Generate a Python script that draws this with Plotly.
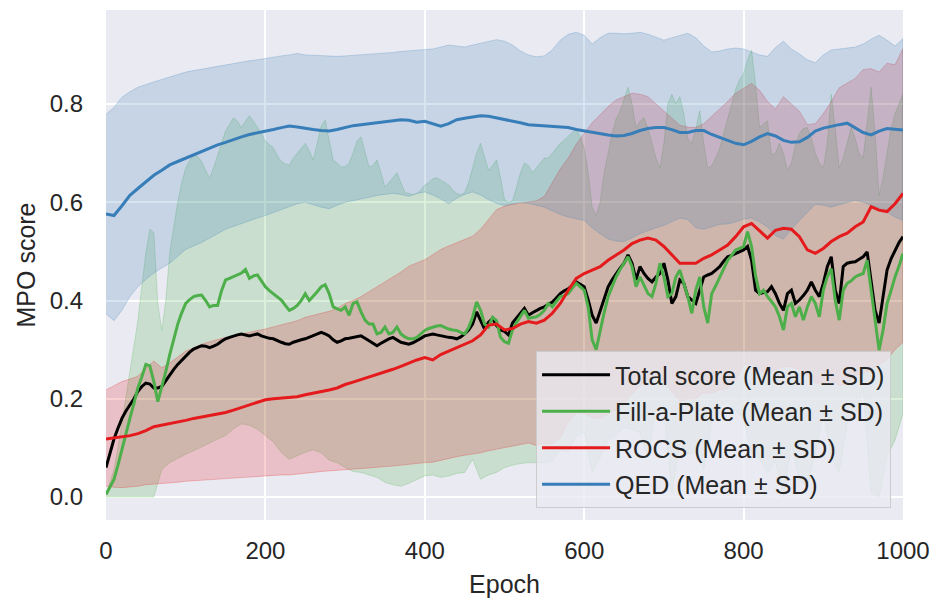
import plotly.graph_objects as go

# ---------------- data ----------------
epochs_10 = list(range(0, 1001, 10))
epochs_5 = list(range(0, 1001, 5))

qed_mean = [
    0.576, 0.573, 0.593, 0.614, 0.628, 0.642, 0.655, 0.665, 0.676, 0.683,
    0.690, 0.697, 0.704, 0.710, 0.717, 0.722, 0.728, 0.733, 0.738, 0.741,
    0.744, 0.748, 0.752, 0.755, 0.753, 0.750, 0.748, 0.746, 0.745, 0.748,
    0.752, 0.756, 0.758, 0.760, 0.762, 0.765, 0.766, 0.768, 0.767, 0.763,
    0.765, 0.760, 0.755, 0.760, 0.768, 0.771, 0.774, 0.776, 0.775, 0.772,
    0.769, 0.765, 0.762, 0.758, 0.757, 0.756, 0.755, 0.754, 0.752, 0.748,
    0.745, 0.742, 0.740, 0.737, 0.735, 0.736, 0.740, 0.746, 0.750, 0.752,
    0.752, 0.748, 0.742, 0.742, 0.746, 0.746, 0.738, 0.732, 0.727, 0.720,
    0.717, 0.724, 0.733, 0.740, 0.735, 0.726, 0.722, 0.723, 0.732, 0.745,
    0.751, 0.755, 0.758, 0.761, 0.752, 0.742, 0.737, 0.745, 0.750, 0.748,
    0.747]
qed_upper = [
    0.779, 0.793, 0.814, 0.825, 0.834, 0.840, 0.845, 0.850, 0.855, 0.860,
    0.865, 0.868, 0.871, 0.874, 0.877, 0.879, 0.882, 0.885, 0.888, 0.890,
    0.893, 0.895, 0.898, 0.900, 0.903, 0.900, 0.899, 0.898, 0.897, 0.897,
    0.898, 0.899, 0.900, 0.901, 0.902, 0.903, 0.905, 0.907, 0.908, 0.909,
    0.910, 0.912, 0.916, 0.920, 0.918, 0.916, 0.920, 0.924, 0.928, 0.931,
    0.928, 0.920, 0.908, 0.900, 0.896, 0.898, 0.910, 0.930, 0.942, 0.946,
    0.940, 0.922, 0.935, 0.944, 0.944, 0.943, 0.944, 0.946, 0.942, 0.936,
    0.930, 0.935, 0.940, 0.944, 0.935, 0.918, 0.906, 0.908, 0.912, 0.914,
    0.912, 0.906, 0.900, 0.897, 0.915, 0.928, 0.912, 0.902, 0.890, 0.884,
    0.900, 0.910, 0.912, 0.914, 0.916, 0.922, 0.932, 0.940, 0.930, 0.918,
    0.933]
qed_lower = [
    0.373, 0.359, 0.380, 0.408, 0.428, 0.443, 0.456, 0.466, 0.476, 0.490,
    0.504, 0.511, 0.518, 0.527, 0.536, 0.545, 0.550, 0.556, 0.562, 0.568,
    0.573, 0.578, 0.585, 0.591, 0.597, 0.600, 0.595, 0.590, 0.587, 0.594,
    0.600, 0.604, 0.607, 0.610, 0.614, 0.616, 0.618, 0.616, 0.612, 0.618,
    0.621, 0.615, 0.607, 0.597, 0.608, 0.616, 0.621, 0.615, 0.605, 0.598,
    0.593, 0.596, 0.600, 0.598, 0.594, 0.590, 0.583, 0.575, 0.570, 0.566,
    0.563, 0.548, 0.536, 0.525, 0.521, 0.520, 0.528, 0.536, 0.542, 0.548,
    0.553, 0.560, 0.568, 0.565, 0.548, 0.545, 0.550, 0.555, 0.556, 0.560,
    0.566, 0.568, 0.560, 0.550, 0.532, 0.525, 0.545, 0.563, 0.580, 0.596,
    0.594, 0.590, 0.595, 0.600, 0.604, 0.600, 0.594, 0.588, 0.580, 0.570,
    0.563]

rocs_mean = [
    0.118, 0.120, 0.122, 0.125, 0.129, 0.135, 0.143, 0.146, 0.149, 0.152,
    0.156, 0.160, 0.163, 0.165, 0.168, 0.172, 0.177, 0.182, 0.187, 0.193,
    0.198, 0.200, 0.201, 0.203, 0.204, 0.208, 0.211, 0.215, 0.218, 0.222,
    0.229, 0.234, 0.239, 0.244, 0.249, 0.255, 0.260, 0.266, 0.273, 0.279,
    0.284, 0.279, 0.290, 0.297, 0.304, 0.311, 0.318, 0.330, 0.350, 0.352,
    0.340, 0.343, 0.352, 0.357, 0.354, 0.360, 0.374, 0.394, 0.421, 0.445,
    0.455, 0.462, 0.469, 0.482, 0.493, 0.503, 0.516, 0.523, 0.527, 0.523,
    0.510, 0.493, 0.476, 0.476, 0.476, 0.486, 0.493, 0.503, 0.513, 0.530,
    0.550, 0.557, 0.543, 0.527, 0.543, 0.547, 0.545, 0.530, 0.503, 0.496,
    0.506, 0.520, 0.530, 0.537, 0.550, 0.560, 0.591, 0.584, 0.581, 0.597,
    0.618]
rocs_upper = [
    0.218, 0.226, 0.235, 0.240, 0.246, 0.262, 0.277, 0.263, 0.273, 0.285,
    0.297, 0.304, 0.311, 0.316, 0.321, 0.325, 0.328, 0.332, 0.335, 0.339,
    0.342, 0.346, 0.350, 0.355, 0.359, 0.366, 0.370, 0.375, 0.378, 0.384,
    0.394, 0.400, 0.408, 0.418, 0.428, 0.438, 0.449, 0.458, 0.470, 0.476,
    0.483, 0.493, 0.504, 0.511, 0.518, 0.525, 0.531, 0.545, 0.565, 0.585,
    0.592, 0.596, 0.598, 0.600, 0.603, 0.612, 0.640, 0.668, 0.690, 0.718,
    0.740, 0.762, 0.778, 0.795, 0.808, 0.815, 0.822, 0.820, 0.815, 0.800,
    0.785, 0.770, 0.757, 0.753, 0.752, 0.760, 0.775, 0.788, 0.805, 0.822,
    0.832, 0.842, 0.828, 0.805, 0.790, 0.815, 0.800, 0.785, 0.758, 0.760,
    0.780, 0.805, 0.833, 0.843, 0.852, 0.870, 0.872, 0.865, 0.883, 0.880,
    0.913]
rocs_lower = [
    0.022, 0.020, 0.019, 0.020, 0.022, 0.025, 0.026, 0.027, 0.029, 0.030,
    0.032, 0.033, 0.034, 0.035, 0.036, 0.037, 0.038, 0.039, 0.040, 0.042,
    0.043, 0.044, 0.045, 0.045, 0.046, 0.048, 0.050, 0.052, 0.053, 0.055,
    0.056, 0.057, 0.058, 0.059, 0.060, 0.062, 0.063, 0.064, 0.066, 0.068,
    0.070, 0.071, 0.074, 0.078, 0.082, 0.085, 0.088, 0.090, 0.094, 0.098,
    0.101, 0.104, 0.107, 0.110, 0.105, 0.108, 0.108, 0.120, 0.152, 0.172,
    0.170, 0.162, 0.160, 0.169, 0.178, 0.191, 0.210, 0.226, 0.239, 0.246,
    0.235, 0.216, 0.195, 0.199, 0.200, 0.212, 0.211, 0.218, 0.221, 0.238,
    0.268, 0.272, 0.258, 0.249, 0.260, 0.265, 0.265, 0.260, 0.248, 0.232,
    0.232, 0.235, 0.227, 0.231, 0.248, 0.250, 0.260, 0.270, 0.280, 0.300,
    0.315]

fap_lower = [
    0.000, 0.000, 0.000, 0.000, 0.000, 0.000, 0.000, 0.056, 0.070, 0.078,
    0.087, 0.094, 0.101, 0.110, 0.118, 0.125, 0.139, 0.149, 0.146, 0.138,
    0.125, 0.112, 0.091, 0.077, 0.084, 0.091, 0.096, 0.090, 0.075, 0.070,
    0.060, 0.052, 0.050, 0.045, 0.040, 0.030, 0.025, 0.022, 0.028, 0.035,
    0.043, 0.045, 0.040, 0.043, 0.048, 0.050, 0.077, 0.036, 0.045, 0.050,
    0.060, 0.065, 0.068, 0.070, 0.070, 0.070, 0.074, 0.096, 0.093, 0.123,
    0.132, 0.050, 0.080, 0.116, 0.126, 0.142, 0.138, 0.131, 0.078, 0.180,
    0.176, 0.008, 0.109, 0.086, 0.092, 0.054, 0.153, 0.186, 0.194, 0.176,
    0.158, 0.090, 0.078, 0.050, 0.074, 0.000, 0.108, 0.034, 0.022, 0.088,
    0.173, 0.080, 0.050, 0.150, 0.166, 0.220, 0.008, 0.000, 0.084, 0.116,
    0.170]

fap_upper = [
    0.005, 0.030, 0.056, 0.100, 0.153, 0.205, 0.256, 0.310, 0.359, 0.430, 0.497, 0.545, 0.538, 0.394, 0.339, 0.400, 0.497, 0.550, 0.600, 0.640,
    0.669, 0.685, 0.697, 0.693, 0.683, 0.665, 0.649, 0.670, 0.697, 0.720, 0.745, 0.760, 0.772, 0.765, 0.752, 0.765, 0.776, 0.765, 0.752, 0.740,
    0.724, 0.718, 0.711, 0.695, 0.683, 0.678, 0.676, 0.690, 0.700, 0.710, 0.720, 0.705, 0.686, 0.720, 0.755, 0.767, 0.730, 0.686, 0.680, 0.672,
    0.672, 0.680, 0.700, 0.725, 0.733, 0.700, 0.672, 0.675, 0.686, 0.660, 0.631, 0.640, 0.650, 0.660, 0.640, 0.620, 0.618, 0.615, 0.618, 0.625,
    0.635, 0.640, 0.648, 0.650, 0.645, 0.640, 0.635, 0.625, 0.618, 0.615, 0.620, 0.640, 0.672, 0.700, 0.720, 0.690, 0.665, 0.675, 0.686, 0.650,
    0.605, 0.600, 0.603, 0.630, 0.660, 0.680, 0.675, 0.660, 0.670, 0.680, 0.690, 0.690, 0.700, 0.710, 0.720, 0.727, 0.735, 0.742, 0.747, 0.735,
    0.710, 0.660, 0.590, 0.573, 0.600, 0.660, 0.700, 0.740, 0.770, 0.786, 0.810, 0.834, 0.800, 0.752, 0.765, 0.772, 0.750, 0.720, 0.690, 0.669,
    0.720, 0.800, 0.820, 0.800, 0.815, 0.780, 0.730, 0.720, 0.750, 0.786, 0.720, 0.669, 0.675, 0.690, 0.710, 0.740, 0.770, 0.800, 0.830, 0.850,
    0.862, 0.890, 0.910, 0.841, 0.752, 0.760, 0.766, 0.697, 0.700, 0.720, 0.700, 0.665, 0.680, 0.717, 0.740, 0.750, 0.752, 0.730, 0.700, 0.680,
    0.669, 0.720, 0.820, 0.750, 0.669, 0.690, 0.720, 0.752, 0.730, 0.700, 0.690, 0.760, 0.834, 0.738, 0.614, 0.650, 0.704, 0.750, 0.780, 0.800,
    0.820]

fap_mean = [
    0.005, 0.020, 0.036, 0.065, 0.098, 0.130, 0.160, 0.190, 0.222, 0.245, 0.270, 0.267, 0.235, 0.194, 0.222, 0.255, 0.290, 0.320, 0.352, 0.375,
    0.394, 0.402, 0.408, 0.410, 0.411, 0.400, 0.387, 0.390, 0.390, 0.420, 0.442, 0.445, 0.449, 0.452, 0.456, 0.463, 0.445, 0.450, 0.452, 0.440,
    0.428, 0.420, 0.414, 0.408, 0.401, 0.390, 0.380, 0.384, 0.390, 0.400, 0.414, 0.400, 0.408, 0.418, 0.428, 0.432, 0.414, 0.387, 0.383, 0.380,
    0.387, 0.370, 0.394, 0.397, 0.377, 0.360, 0.352, 0.352, 0.332, 0.335, 0.346, 0.332, 0.335, 0.346, 0.332, 0.326, 0.322, 0.322, 0.325, 0.332,
    0.339, 0.343, 0.346, 0.348, 0.349, 0.345, 0.342, 0.340, 0.339, 0.335, 0.332, 0.345, 0.366, 0.397, 0.380, 0.352, 0.346, 0.366, 0.359, 0.325,
    0.316, 0.313, 0.340, 0.355, 0.367, 0.380, 0.364, 0.365, 0.367, 0.372, 0.380, 0.394, 0.387, 0.398, 0.408, 0.410, 0.414, 0.425, 0.435, 0.428,
    0.421, 0.387, 0.320, 0.300, 0.340, 0.375, 0.408, 0.430, 0.448, 0.463, 0.476, 0.489, 0.469, 0.428, 0.448, 0.430, 0.414, 0.408, 0.435, 0.476,
    0.448, 0.408, 0.414, 0.448, 0.462, 0.435, 0.408, 0.374, 0.421, 0.448, 0.387, 0.354, 0.414, 0.430, 0.448, 0.465, 0.482, 0.492, 0.503, 0.506,
    0.510, 0.540, 0.510, 0.450, 0.414, 0.421, 0.408, 0.398, 0.387, 0.367, 0.340, 0.387, 0.394, 0.367, 0.387, 0.360, 0.387, 0.408, 0.394, 0.367,
    0.421, 0.448, 0.465, 0.400, 0.360, 0.421, 0.435, 0.440, 0.448, 0.452, 0.455, 0.482, 0.421, 0.354, 0.299, 0.340, 0.394, 0.420, 0.448, 0.470,
    0.496]

total_mean = [
    0.060, 0.090, 0.118, 0.140, 0.160, 0.175, 0.187, 0.200, 0.215, 0.225, 0.232, 0.230, 0.222, 0.222, 0.225, 0.237, 0.249, 0.260, 0.270, 0.279,
    0.287, 0.295, 0.301, 0.305, 0.308, 0.307, 0.304, 0.307, 0.311, 0.317, 0.322, 0.325, 0.328, 0.330, 0.332, 0.330, 0.328, 0.330, 0.332, 0.328,
    0.325, 0.323, 0.322, 0.318, 0.315, 0.312, 0.311, 0.315, 0.318, 0.320, 0.322, 0.325, 0.328, 0.332, 0.335, 0.332, 0.328, 0.320, 0.315, 0.318,
    0.322, 0.323, 0.325, 0.327, 0.328, 0.323, 0.318, 0.313, 0.308, 0.313, 0.318, 0.322, 0.325, 0.320, 0.315, 0.313, 0.311, 0.314, 0.318, 0.323,
    0.328, 0.330, 0.332, 0.330, 0.328, 0.327, 0.325, 0.324, 0.322, 0.326, 0.332, 0.340, 0.352, 0.377, 0.359, 0.342, 0.356, 0.363, 0.349, 0.340,
    0.337, 0.330, 0.354, 0.365, 0.374, 0.384, 0.370, 0.375, 0.380, 0.384, 0.387, 0.392, 0.397, 0.405, 0.414, 0.420, 0.424, 0.430, 0.438, 0.433,
    0.428, 0.401, 0.370, 0.354, 0.380, 0.405, 0.428, 0.442, 0.455, 0.466, 0.476, 0.493, 0.476, 0.442, 0.469, 0.455, 0.445, 0.438, 0.448, 0.455,
    0.476, 0.442, 0.394, 0.408, 0.442, 0.435, 0.408, 0.400, 0.394, 0.421, 0.448, 0.452, 0.455, 0.462, 0.469, 0.480, 0.489, 0.492, 0.496, 0.500,
    0.503, 0.510, 0.482, 0.421, 0.414, 0.416, 0.418, 0.428, 0.414, 0.394, 0.380, 0.414, 0.421, 0.394, 0.401, 0.410, 0.421, 0.438, 0.421, 0.408,
    0.435, 0.469, 0.489, 0.421, 0.394, 0.469, 0.476, 0.478, 0.479, 0.484, 0.489, 0.499, 0.435, 0.380, 0.354, 0.408, 0.462, 0.485, 0.503, 0.518,
    0.530]

names = ["Total score (Mean ± SD)", "Fill-a-Plate (Mean ± SD)",
         "ROCS (Mean ± SD)", "QED (Mean ± SD)"]

for arr in (qed_mean, qed_upper, qed_lower, rocs_mean, rocs_upper, rocs_lower, fap_lower):
    assert len(arr) == len(epochs_10), len(arr)
for arr in (fap_upper, fap_mean, total_mean):
    assert len(arr) == len(epochs_5), len(arr)

# ---------------- styling ----------------
BLACK = (0, 0, 0)
GREEN = (77, 175, 74)
RED = (228, 26, 28)
BLUE = (55, 126, 184)


def rgba(c, a):
    return "rgba(%d,%d,%d,%s)" % (c[0], c[1], c[2], a)


fig = go.Figure()


def band(x_up, up, x_lo, lo, col):
    fig.add_trace(go.Scatter(
        x=list(x_up) + list(x_lo)[::-1],
        y=list(up) + list(lo)[::-1],
        fill="toself", fillcolor=rgba(col, 0.2),
        line=dict(color=rgba(col, 0.25), width=1),
        mode="lines", hoverinfo="skip", showlegend=False))


band(epochs_5, fap_upper, epochs_10, fap_lower, GREEN)
band(epochs_10, rocs_upper, epochs_10, rocs_lower, RED)
band(epochs_10, qed_upper, epochs_10, qed_lower, BLUE)

lines = [
    (epochs_5, total_mean, BLACK, names[0]),
    (epochs_5, fap_mean, GREEN, names[1]),
    (epochs_10, rocs_mean, RED, names[2]),
    (epochs_10, qed_mean, BLUE, names[3]),
]
for i, (x, y, col, nm) in enumerate(lines):
    fig.add_trace(go.Scatter(
        x=x, y=y, mode="lines", name=nm, legendgroup="g%d" % i,
        line=dict(color=rgba(col, 1), width=3)))

FONT = "Liberation Sans, Arial, sans-serif"
TXT = "#262626"

fig.update_layout(
    width=934, height=599,
    margin=dict(l=106, r=31, t=10, b=79),
    paper_bgcolor="white", plot_bgcolor="#EAEAF2",
    font=dict(family=FONT, color=TXT, size=24),
    showlegend=True,
    legend=dict(
        x=0.985, y=0.0235, xanchor="right", yanchor="bottom",
        bgcolor="rgba(234,234,242,0.8)", bordercolor="#CCCCCC", borderwidth=1,
        font=dict(family=FONT, size=25, color=TXT),
        traceorder="grouped", tracegroupgap=1, itemwidth=68,
    ),
)
fig.update_xaxes(
    range=[0, 1000], tickvals=[0, 200, 400, 600, 800, 1000],
    showgrid=True, gridcolor="white", gridwidth=1.5,
    zeroline=False, showline=False, ticks="", automargin=False,
    tickfont=dict(size=24, color=TXT), ticklabelstandoff=14,
    title=dict(text="Epoch", font=dict(size=25, color=TXT), standoff=12),
)
fig.update_yaxes(
    range=[-0.0468, 0.9914], tickvals=[0.0, 0.2, 0.4, 0.6, 0.8],
    ticktext=["0.0", "0.2", "0.4", "0.6", "0.8"],
    showgrid=True, gridcolor="white", gridwidth=1.5,
    zeroline=False, showline=False, ticks="", automargin=False,
    tickfont=dict(size=24, color=TXT), ticklabelstandoff=22,
    title=dict(text="MPO score", font=dict(size=25, color=TXT), standoff=6),
)

fig.write_html("out.html")
